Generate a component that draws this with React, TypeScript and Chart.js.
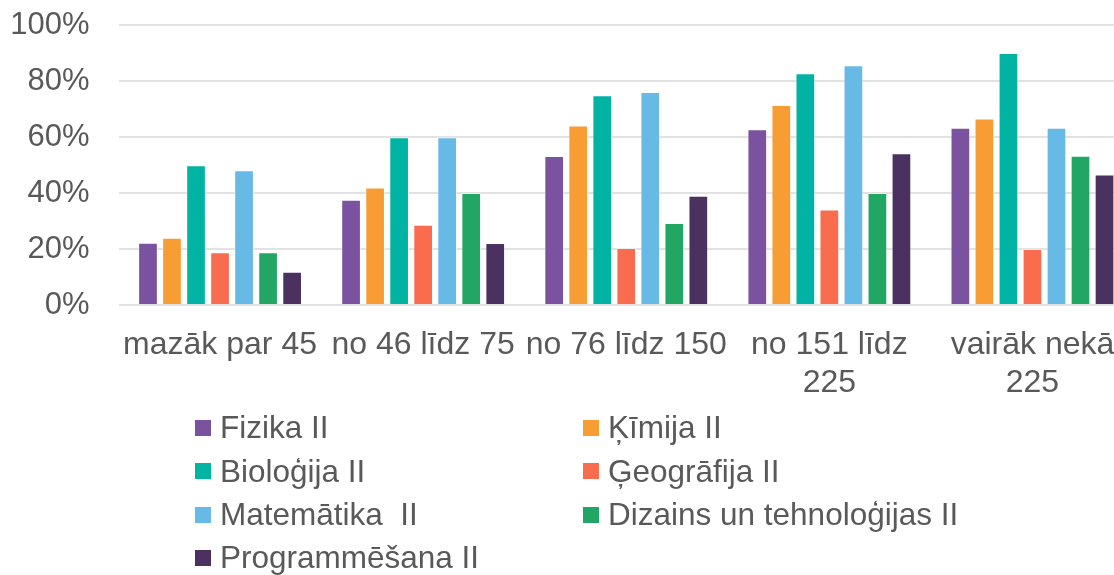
import React, { useEffect, useRef } from "react";
import { Chart, registerables } from "chart.js";

Chart.register(...registerables);

const categories: string[][] = [
  ["mazāk par 45"],
  ["no 46 līdz 75"],
  ["no 76 līdz 150"],
  ["no 151 līdz", "225"],
  ["vairāk nekā", "225"],
];

const seriesNames = [
  "Fizika II",
  "Ķīmija II",
  "Bioloģija II",
  "Ģeogrāfija II",
  "Matemātika  II",
  "Dizains un tehnoloģijas II",
  "Programmēšana II",
];

const seriesColors = [
  "#7B52A0",
  "#F89C34",
  "#00B3A3",
  "#F96C4D",
  "#67B9E6",
  "#22A663",
  "#4A3160",
];

const fizika = [22.2, 37.6, 53.2, 62.8, 63.3];
const kimija = [24.0, 42.0, 64.1, 71.4, 66.6];
const biologija = [49.9, 59.9, 74.9, 82.8, 90.0];
const geografija = [18.8, 28.7, 20.4, 34.1, 20.0];
const matematika = [48.1, 59.9, 76.1, 85.6, 63.3];
const dizains = [18.8, 40.0, 29.3, 40.0, 53.3];
const programmesana = [11.9, 22.1, 39.0, 54.2, 46.6];

const seriesValues = [fizika, kimija, biologija, geografija, matematika, dizains, programmesana];

const yMin = 0;
const yMax = 100;
const yStep = 20;

const FONT = "'Liberation Sans', Arial, sans-serif";
const TEXT = "#595959";

export default function App() {
  const canvasRef = useRef<HTMLCanvasElement | null>(null);

  useEffect(() => {
    if (!canvasRef.current) return;
    const chart = new Chart(canvasRef.current, {
      type: "bar",
      data: {
        labels: categories,
        datasets: seriesNames.map((name, i) => ({
          label: name,
          data: seriesValues[i],
          backgroundColor: seriesColors[i],
          borderColor: "rgba(255,255,255,0.45)",
          borderWidth: 1,
          categoryPercentage: 0.828,
          barPercentage: 0.82,
        })),
      },
      options: {
        responsive: false,
        animation: false,
        layout: { padding: { top: 25, left: 0, right: 0, bottom: 0 } },
        plugins: {
          legend: { display: false },
          tooltip: { enabled: false },
          title: { display: false },
        },
        scales: {
          x: {
            grid: { display: false, drawTicks: false },
            border: { display: false },
            ticks: {
              color: TEXT,
              font: { family: FONT, size: 32, lineHeight: 1.16 },
              padding: 22,
              maxRotation: 0,
              autoSkip: false,
            },
            afterFit: (scale: any) => {
              scale.height = 270;
              scale.paddingLeft = 0;
              scale.paddingRight = 0;
              scale.paddingTop = 0;
              scale.paddingBottom = 0;
            },
          },
          y: {
            min: yMin,
            max: yMax,
            grid: { color: "#e2e2e2", lineWidth: 2, drawTicks: false },
            border: { display: false },
            ticks: {
              stepSize: yStep,
              color: TEXT,
              font: { family: FONT, size: 31 },
              padding: 29,
              callback: (v: any) => v + "%",
            },
            afterFit: (scale: any) => {
              scale.width = 118.5;
              scale.paddingTop = 0;
              scale.paddingBottom = 0;
              scale.paddingLeft = 0;
              scale.paddingRight = 0;
            },
          },
        },
      },
    });
    return () => chart.destroy();
  }, []);

  return (
    <div
      style={{
        position: "fixed",
        left: 0,
        top: 0,
        width: 1114,
        height: 575,
        overflow: "hidden",
        background: "#ffffff",
      }}
    >
      <canvas ref={canvasRef} width={1134} height={575} style={{ display: "block" }} />
      <div
        style={{
          position: "absolute",
          left: 195,
          top: 406.5,
          display: "grid",
          gridTemplateColumns: "388px auto",
          gridAutoRows: "43.3px",
          fontFamily: FONT,
          fontSize: 31.5,
          color: TEXT,
        }}
      >
        {seriesNames.map((name, i) => (
          <div key={name} style={{ display: "flex", alignItems: "center", whiteSpace: "pre", lineHeight: 1 }}>
            <span
              style={{
                display: "inline-block",
                width: 16,
                height: 16,
                background: seriesColors[i],
                marginRight: 9,
                flex: "none",
              }}
            />
            <span>{name}</span>
          </div>
        ))}
      </div>
    </div>
  );
}
